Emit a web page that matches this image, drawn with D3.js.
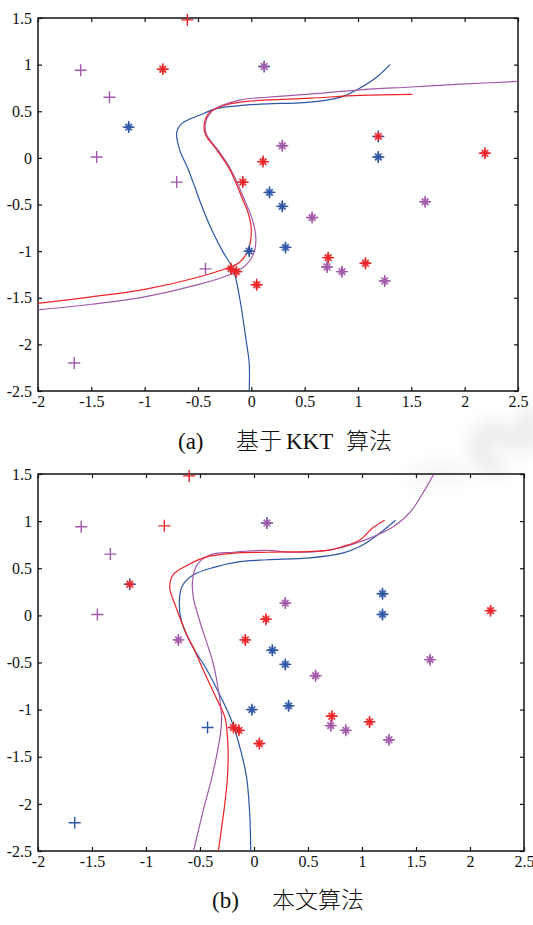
<!DOCTYPE html>
<head>
    <style>
        body { margin: 0; background: #fff; }
        svg { display: block; background-color: #fff; }
        .cap { font-family: "Liberation Serif", "Noto Sans CJK SC", serif; font-size: 23px; fill: #111; }
        .cjk { font-family: "Noto Sans CJK SC", sans-serif; font-weight: 300; }
    </style>
</head>
<body>
    <script src="https://d3js.org/d3.v7.min.js"></script>
    <script>
        // axis ticks
        var xTicks = [-2, -1.5, -1, -0.5, 0, 0.5, 1, 1.5, 2, 2.5];
        var yTicks = [-2.5, -2, -1.5, -1, -0.5, 0, 0.5, 1, 1.5];

        // sample points (same set in both panels)
        var ptX = [-0.60, -1.60, -0.83, 0.12, -1.33, -1.15, -1.45, -0.70, -0.08, 0.11,
                   0.17, 0.29, 0.32, 0.57, 0.29, 1.19, 1.19, 2.19, 1.63, 0.72,
                   0.71, 0.85, 1.07, 1.25, -0.02, -0.43, -0.19, -0.14, 0.05, -1.66];
        var ptY = [1.48, 0.94, 0.95, 0.98, 0.65, 0.33, 0.01, -0.26, -0.26, -0.04,
                   -0.37, -0.52, -0.96, -0.64, 0.13, 0.23, 0.01, 0.05, -0.47, -1.07,
                   -1.17, -1.22, -1.13, -1.32, -1.00, -1.19, -1.19, -1.22, -1.36, -2.20];

        // marker colours: r red, b blue, p purple; '' = no asterisk
        var plusA = ['r','p','r','b','p','b','p','p','r','r',
                     'b','b','b','p','p','b','b','r','p','r',
                     'p','p','r','p','b','p','r','r','r','p'];
        var starA = ['','','r','p','','b','','','r','r',
                     'b','b','b','p','p','r','b','r','p','r',
                     'p','p','r','p','b','','r','r','r',''];
        var plusB = ['r','p','r','b','p','b','p','p','r','r',
                     'b','b','b','p','p','b','b','r','p','r',
                     'p','p','r','p','b','b','r','r','r','b'];
        var starB = ['','','','p','','r','','p','r','r',
                     'b','b','b','p','p','b','b','r','p','r',
                     'p','p','r','p','b','','r','r','r',''];

        // separating curves, panel (a) KKT
        var kktRed = [[-2,-1.56],[-1.5,-1.49],[-1,-1.41],[-0.5,-1.28],[-0.2,-1.17],[-0.11,-1.12],
                      [-0.03,-0.99],[0.0,-0.77],[-0.03,-0.59],[-0.08,-0.45],[-0.2,-0.13],[-0.32,0.08],
                      [-0.43,0.25],[-0.44,0.37],[-0.39,0.49],[-0.23,0.57],[0.0,0.61],[0.55,0.64],
                      [1.02,0.67],[1.51,0.68]];
        var kktBlue = [[-0.02,-2.5],[-0.02,-2.2],[-0.05,-1.95],[-0.11,-1.5],[-0.17,-1.2],[-0.27,-1.0],
                       [-0.38,-0.75],[-0.48,-0.47],[-0.53,-0.31],[-0.60,-0.1],[-0.67,0.08],[-0.70,0.27],
                       [-0.65,0.37],[-0.48,0.46],[-0.32,0.53],[-0.11,0.56],[0.15,0.58],[0.45,0.59],
                       [0.71,0.62],[0.86,0.66],[1.02,0.75],[1.18,0.87],[1.30,1.0]];
        var kktPurple = [[-2,-1.63],[-1.5,-1.57],[-1,-1.49],[-0.5,-1.36],[-0.2,-1.25],[-0.05,-1.15],
                         [0.03,-1.0],[0.04,-0.82],[0.0,-0.63],[-0.06,-0.46],[-0.19,-0.13],[-0.31,0.08],
                         [-0.42,0.25],[-0.43,0.37],[-0.36,0.51],[-0.11,0.62],[0.15,0.65],[0.6,0.69],
                         [1.02,0.73],[1.5,0.76],[1.96,0.79],[2.5,0.82]];

        // panel (b) proposed algorithm
        var oursRed = [[-0.33,-2.5],[-0.25,-1.78],[-0.24,-1.43],[-0.27,-1.08],[-0.34,-0.9],[-0.47,-0.58],
                       [-0.55,-0.37],[-0.62,-0.21],[-0.73,0.11],[-0.78,0.29],[-0.75,0.43],[-0.62,0.53],
                       [-0.44,0.62],[-0.19,0.66],[0.12,0.67],[0.68,0.69],[0.82,0.73],[0.98,0.8],
                       [1.1,0.93],[1.21,1.01]];
        var oursBlue = [[-0.03,-2.5],[-0.04,-2.1],[-0.07,-1.71],[-0.15,-1.32],[-0.22,-1.08],[-0.34,-0.79],
                        [-0.45,-0.55],[-0.56,-0.35],[-0.67,-0.07],[-0.69,0.18],[-0.66,0.32],[-0.56,0.43],
                        [-0.37,0.51],[-0.13,0.57],[0.12,0.59],[0.52,0.61],[0.82,0.66],[0.98,0.73],
                        [1.14,0.85],[1.31,1.01]];
        var oursPurple = [[-0.56,-2.5],[-0.47,-2.07],[-0.38,-1.67],[-0.31,-1.25],[-0.3,-1.08],[-0.34,-0.72],
                          [-0.38,-0.5],[-0.5,-0.07],[-0.56,0.18],[-0.57,0.35],[-0.53,0.53],[-0.41,0.64],
                          [-0.19,0.67],[0.12,0.69],[0.36,0.67],[0.68,0.69],[0.98,0.78],[1.29,0.94],
                          [1.45,1.1],[1.57,1.31],[1.66,1.49]];

        var colors = { r: '#ec2227', b: '#2c55a5', p: '#a258aa' };

        var svg = d3.select('body')
                    .append('svg')
                    .attr('width', 533)
                    .attr('height', 925);

        // faint scanned watermark near caption (a)
        var defs = svg.append('defs');
        defs.append('filter').attr('id', 'blur').attr('x', '-50%').attr('y', '-50%')
            .attr('width', '200%').attr('height', '200%')
            .append('feGaussianBlur').attr('stdDeviation', 9);
        var wm = svg.append('g').attr('filter', 'url(#blur)').attr('fill', 'none')
                    .attr('stroke', '#c8c8c8').attr('stroke-width', 12).attr('opacity', 0.55);
        wm.append('path').attr('d', 'M 505 468 C 480 468 470 445 486 432 C 500 424 515 438 508 450');
        wm.append('path').attr('d', 'M 533 450 C 522 430 526 415 533 410');
        wm.append('path').attr('d', 'M 410 478 C 430 470 450 470 465 476').attr('stroke', '#e2e2e2');

        function panel(left, top, w, h, curves, plusCol, starCol) {
            var x = d3.scaleLinear().domain([-2, 2.5]).range([left, left + w]);
            var y = d3.scaleLinear().domain([-2.5, 1.5]).range([top + h, top]);
            var g = svg.append('g');

            var fmt = d => String(d);
            g.append('g').attr('transform', 'translate(0,' + (top + h) + ')')
             .call(d3.axisBottom(x).tickValues(xTicks).tickFormat(fmt).tickSizeInner(-4).tickSizeOuter(0).tickPadding(5));
            g.append('g').attr('transform', 'translate(' + left + ',0)')
             .call(d3.axisLeft(y).tickValues(yTicks).tickFormat(fmt).tickSizeInner(-4).tickSizeOuter(0).tickPadding(6));
            g.append('g').attr('transform', 'translate(0,' + top + ')')
             .call(d3.axisTop(x).tickValues(xTicks).tickFormat('').tickSizeInner(-4).tickSizeOuter(0));
            g.append('g').attr('transform', 'translate(' + (left + w) + ',0)')
             .call(d3.axisRight(y).tickValues(yTicks).tickFormat('').tickSizeInner(-4).tickSizeOuter(0));
            g.selectAll('.domain').remove();
            g.selectAll('.tick line').attr('stroke', '#111').attr('stroke-width', 1.2);
            g.selectAll('.tick text')
             .attr('font-family', '"Liberation Serif", "Times New Roman", serif')
             .attr('font-size', 16).attr('fill', '#111');
            g.append('rect').attr('x', left).attr('y', top).attr('width', w).attr('height', h)
             .attr('fill', 'none').attr('stroke', '#111').attr('stroke-width', 1.5);

            var line = d3.line().x(d => x(d[0])).y(d => y(d[1])).curve(d3.curveCatmullRom.alpha(0.5));
            curves.forEach(function(c) {
                g.append('path').datum(c.pts).attr('d', line)
                 .attr('fill', 'none').attr('stroke', colors[c.col]).attr('stroke-width', 1.2);
            });

            var pts = d3.range(ptX.length);
            var m = g.selectAll('g.pt').data(pts).enter().append('g').attr('class', 'pt')
                     .attr('transform', i => 'translate(' + x(ptX[i]) + ',' + y(ptY[i]) + ')');
            m.append('path').attr('d', 'M-6,0H6M0,-6V6')
             .attr('stroke', i => colors[plusCol[i]]).attr('stroke-width', 1.4);
            m.filter(i => starCol[i] !== '')
             .append('path').attr('d', 'M-4.5,0H4.5M0,-4.5V4.5M-3.3,-3.3L3.3,3.3M-3.3,3.3L3.3,-3.3')
             .attr('stroke', i => colors[starCol[i]]).attr('stroke-width', 1.8).attr('opacity', 0.9);
        }

        panel(38, 18, 480, 373, [
            { pts: kktBlue, col: 'b' }, { pts: kktPurple, col: 'p' }, { pts: kktRed, col: 'r' }
        ], plusA, starA);
        panel(38, 474, 486, 377, [
            { pts: oursBlue, col: 'b' }, { pts: oursPurple, col: 'p' }, { pts: oursRed, col: 'r' }
        ], plusB, starB);

        // captions
        var capA = svg.append('text').attr('class', 'cap').attr('y', 449);
        capA.append('tspan').attr('x', 178).text('(a)');
        capA.append('tspan').attr('x', 236).attr('class', 'cjk').text('基于');
        capA.append('tspan').attr('x', 286).text('KKT');
        capA.append('tspan').attr('x', 346).attr('class', 'cjk').text('算法');

        var capB = svg.append('text').attr('class', 'cap').attr('y', 908);
        capB.append('tspan').attr('x', 212).text('(b)');
        capB.append('tspan').attr('x', 272).attr('class', 'cjk').text('本文算法');
    </script>
</body>
